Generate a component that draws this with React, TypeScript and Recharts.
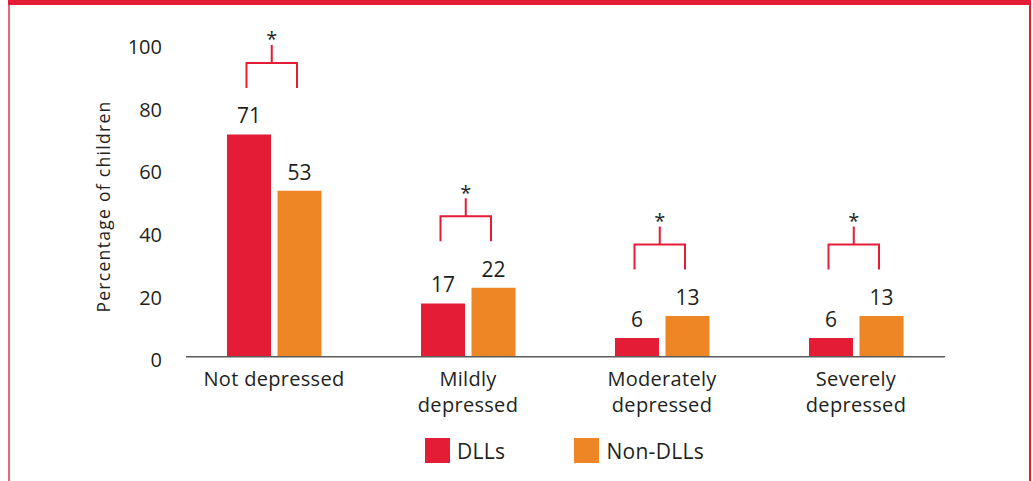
import React from 'react';
import { BarChart, Bar, XAxis, YAxis, LabelList, Legend, Label } from 'recharts';

// ---- data ----
const categories = ['Not depressed', 'Mildly depressed', 'Moderately depressed', 'Severely depressed'];
const categoryLines = [['Not depressed'], ['Mildly', 'depressed'], ['Moderately', 'depressed'], ['Severely', 'depressed']];
const dllValues = [71, 17, 6, 6];
const nonDllValues = [53, 22, 13, 13];
const significance = ['*', '*', '*', '*'];
const yTicks = [0, 20, 40, 60, 80, 100];
const seriesNames = ['DLLs', 'Non-DLLs'];
const yAxisTitle = 'Percentage of children';

const data = categories.map((c, i) => ({
  category: c,
  dll: dllValues[i],
  non: nonDllValues[i],
}));

// ---- style ----
const RED = '#E51C36';
const ORANGE = '#EE8625';
const TEXT = '#231F20';
const FONT = '"Open Sans", "DejaVu Sans", sans-serif';
const BAR_SIZE = 44;
const BAR_GAP = 6.5;

const YTick = (props: any) => {
  const { x, y, payload } = props;
  return (
    <text x={x} y={y + 10.5} textAnchor="end" fontFamily={FONT} fontSize={20} fill={TEXT}>
      {payload.value}
    </text>
  );
};

const XTick = (props: any) => {
  const { x, y, payload } = props;
  const idx = categories.indexOf(payload.value);
  const lines = idx >= 0 ? categoryLines[idx] : [String(payload.value)];
  return (
    <text x={x} y={y + 21} textAnchor="middle" fontFamily={FONT} fontSize={20} fill={TEXT} letterSpacing={0.3}>
      {lines.map((l, i) => (
        <tspan key={i} x={x} dy={i === 0 ? 0 : 26}>
          {l}
        </tspan>
      ))}
    </text>
  );
};

const YTitle = (props: any) => {
  const vb = props.viewBox || {};
  const cx = vb.x + 2.7;
  const cy = vb.y + vb.height / 2 + 6.3;
  return (
    <text
      x={cx}
      y={cy}
      transform={`rotate(-90, ${cx}, ${cy})`}
      textAnchor="middle"
      dominantBaseline="central"
      fontFamily={FONT}
      fontSize={17.5}
      letterSpacing={1.3}
      fill={TEXT}
    >
      {yAxisTitle}
    </text>
  );
};

const Bracket = (props: any) => {
  const vb = props.viewBox || props;
  const idx = categories.indexOf(props.value);
  if (idx < 0 || !vb) return null;
  const h = Math.abs(vb.height);
  const base = vb.y + h;
  const k = h / dllValues[idx];
  const maxV = Math.max(dllValues[idx], nonDllValues[idx]);
  const topY = base - maxV * k;
  const legBottom = topY - 46.5;
  const hY = legBottom - 25;
  const stemTop = hY - 18;
  const x1 = vb.x + vb.width / 2 - 2.5;
  const x2 = vb.x + vb.width + BAR_GAP + vb.width / 2 - 2.5;
  const mid = (x1 + x2) / 2;
  return (
    <g>
      <path
        d={`M${x1},${legBottom}V${hY}H${x2}V${legBottom}M${mid},${hY}V${stemTop}`}
        stroke={RED}
        strokeWidth={2}
        fill="none"
      />
      <text x={mid} y={stemTop + 1.5} textAnchor="middle" fontFamily={FONT} fontSize={20} fill={TEXT}>
        {significance[idx]}
      </text>
    </g>
  );
};

const LegendContent = () => (
  <div
    style={{
      display: 'flex',
      alignItems: 'center',
      height: 40,
      paddingLeft: 425,
      fontFamily: FONT,
      fontSize: 21,
      color: TEXT,
      boxSizing: 'border-box',
    }}
  >
    {[RED, ORANGE].map((c, i) => (
      <div key={i} style={{ display: 'flex', alignItems: 'center', marginRight: i === 0 ? 69 : 0 }}>
        <div style={{ width: 25, height: 25, background: c, marginRight: 7 }} />
        <span style={{ letterSpacing: 0.3 }}>{seriesNames[i]}</span>
      </div>
    ))}
  </div>
);

export default function App() {
  return (
    <div style={{ position: 'absolute', left: 0, top: 0, width: 1033, height: 481, background: '#fff' }}>
      <div style={{ position: 'absolute', left: 8, top: 0, width: 1023, height: 5, background: RED }} />
      <div style={{ position: 'absolute', left: 8, top: 5, width: 2, height: 476, background: '#EE6479' }} />
      <div style={{ position: 'absolute', left: 1029, top: 5, width: 2, height: 476, background: RED }} />
      <div style={{ position: 'absolute', left: 0, top: 0 }}>
        <BarChart
          width={1033}
          height={481}
          data={data}
          margin={{ top: 43.7, right: 88, bottom: 10.5, left: 100 }}
          barGap={BAR_GAP}
          barSize={BAR_SIZE}
        >
          <XAxis
            dataKey="category"
            height={73.8}
            padding={{ left: -9, right: -8 }}
            axisLine={{ stroke: '#5A5A5A', strokeWidth: 1.5 }}
            tickLine={false}
            tick={<XTick />}
            interval={0}
          />
          <YAxis
            width={86}
            domain={[0, 100]}
            ticks={yTicks}
            axisLine={false}
            tickLine={false}
            tickSize={6}
            tickMargin={18}
            tick={<YTick />}
            label={<Label content={<YTitle />} />}
          />
          <Legend verticalAlign="bottom" height={40} wrapperStyle={{ left: 0, width: 1033, bottom: 10.5 }} content={<LegendContent />} />
          <Bar dataKey="dll" name={seriesNames[0]} fill={RED} isAnimationActive={false}>
            <LabelList dataKey="dll" position="top" offset={11} fill={TEXT} fontSize={21} fontFamily={FONT} />
            <LabelList dataKey="category" content={<Bracket />} />
          </Bar>
          <Bar dataKey="non" name={seriesNames[1]} fill={ORANGE} isAnimationActive={false}>
            <LabelList dataKey="non" position="top" offset={11} fill={TEXT} fontSize={21} fontFamily={FONT} />
          </Bar>
        </BarChart>
      </div>
    </div>
  );
}
